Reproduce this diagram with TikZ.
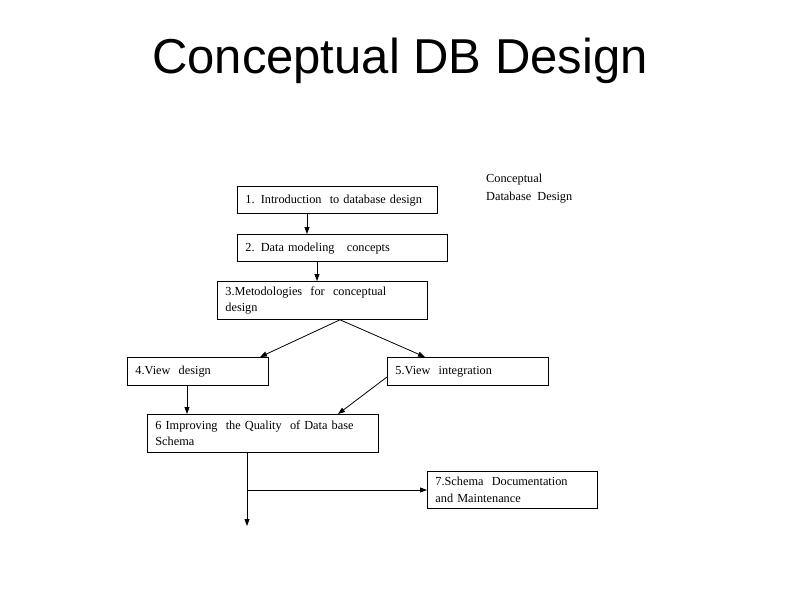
\documentclass[tikz,border=0pt]{standalone}
\usepackage{fontspec}
\setmainfont{Liberation Serif}
\newfontfamily\titlefont{Liberation Sans}
\usetikzlibrary{arrows.meta,calc}
\begin{document}
\begin{tikzpicture}[x=1pt,y=-1pt,
  stepbox/.style={draw,line width=0.8pt,anchor=north west,inner xsep=8pt,inner ysep=0pt,
    align=left,font=\fontsize{12.3}{16.5}\selectfont},
  oneline/.style={text height=9pt,text depth=2pt},
  conn/.style={line width=0.8pt,-{Triangle[length=7pt,width=5pt]}}]
\useasboundingbox (0,0) rectangle (800,600);
\node[font=\titlefont\fontsize{49}{52}\selectfont] (title) at (400,61) {Conceptual DB Design};
\node[anchor=north west,align=left,inner sep=0pt,font=\fontsize{12.3}{18}\selectfont] (lbl) at (486,174) {Conceptual\\Database\ \ Design};
\node[stepbox,oneline,text width=184pt,minimum height=27pt] (b1) at (237,186) {1. Introduction\ \ to database design};
\node[stepbox,oneline,text width=194pt,minimum height=27pt] (b2) at (237,234) {2. Data modeling\ \ \ concepts};
\node[stepbox,text width=194pt,minimum height=38pt] (b3) at (217,281) {3.Metodologies\ \ for\ \ conceptual\\design};
\node[stepbox,oneline,text width=125pt,minimum height=28pt] (b4) at (127,357) {4.View\ \ design};
\node[stepbox,oneline,text width=145pt,minimum height=28pt] (b5) at (387,357) {5.View\ \ integration};
\node[stepbox,text width=215pt,minimum height=38pt] (b6) at (147,414) {6 Improving\ \ the Quality\ \ of Data base\\Schema};
\node[stepbox,text width=154pt,minimum height=37pt] (b7) at (427,471) {7.Schema\ \ Documentation\\and Maintenance};
\coordinate (s3) at (340,0 |- b3.south);
\coordinate (s6) at (247,0 |- b6.south);
\coordinate (j6) at (247,490);
\coordinate (e6) at (247,526);
\draw[conn] (307,0 |- b1.south) -- (307,0 |- b2.north);
\draw[conn] (317,0 |- b2.south) -- (317,0 |- b3.north);
\draw[conn] (s3) -- (260,0 |- b4.north);
\draw[conn] (s3) -- (425,0 |- b5.north);
\draw[conn] (187,0 |- b4.south) -- (187,0 |- b6.north);
\draw[conn] (b5.west |- 0,377) -- (338,0 |- b6.north);
\draw[conn] (s6) -- (e6);
\draw[conn] (j6) -- (j6 -| b7.west);
\end{tikzpicture}
\end{document}
